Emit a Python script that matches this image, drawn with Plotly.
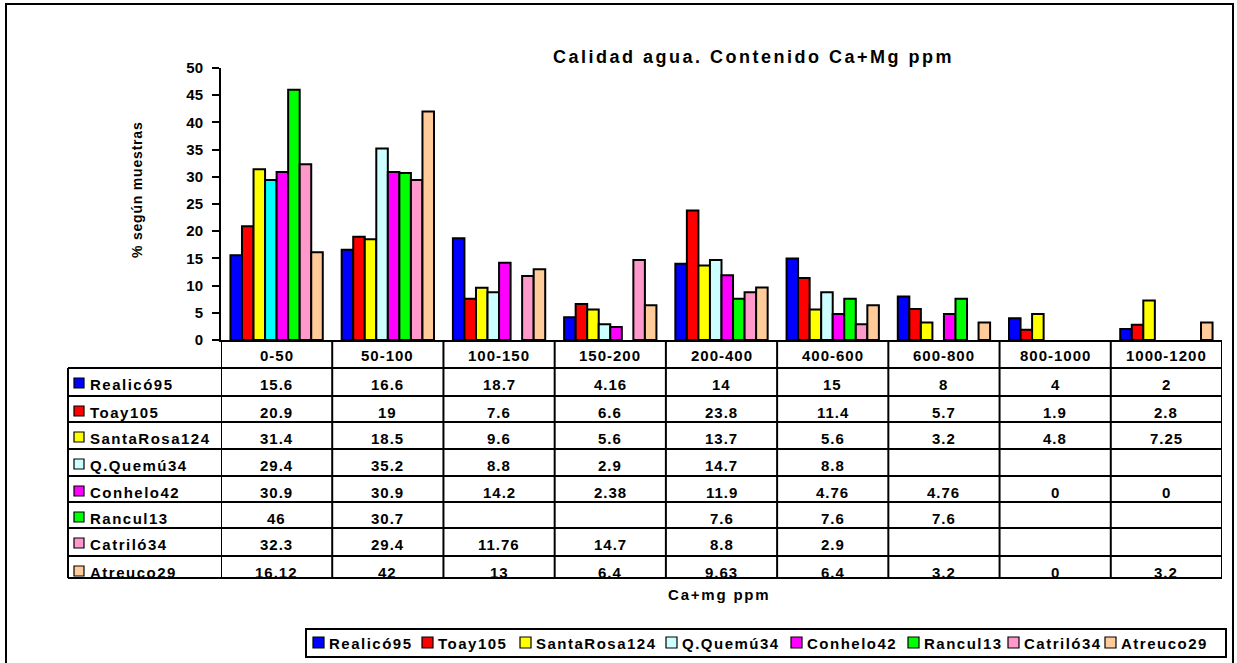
import plotly.graph_objects as go

# ---------------- data ----------------
categories = ["0-50", "50-100", "100-150", "150-200", "200-400",
              "400-600", "600-800", "800-1000", "1000-1200"]
series_names = ["Realicó95", "Toay105", "SantaRosa124", "Q.Quemú34",
                "Conhelo42", "Rancul13", "Catriló34", "Atreuco29"]
realico = [15.6, 16.6, 18.7, 4.16, 14, 15, 8, 4, 2]
toay = [20.9, 19, 7.6, 6.6, 23.8, 11.4, 5.7, 1.9, 2.8]
santarosa = [31.4, 18.5, 9.6, 5.6, 13.7, 5.6, 3.2, 4.8, 7.25]
qquemu = [29.4, 35.2, 8.8, 2.9, 14.7, 8.8, None, None, None]
conhelo = [30.9, 30.9, 14.2, 2.38, 11.9, 4.76, 4.76, 0, 0]
rancul = [46, 30.7, None, None, 7.6, 7.6, 7.6, None, None]
catrilo = [32.3, 29.4, 11.76, 14.7, 8.8, 2.9, None, None, None]
atreuco = [16.12, 42, 13, 6.4, 9.63, 6.4, 3.2, 0, 3.2]
series_values = [realico, toay, santarosa, qquemu, conhelo, rancul, catrilo, atreuco]

colors = ["#0000FF", "#FF0000", "#FFFF00", "#CCFFFF",
          "#FF00FF", "#00FF00", "#FF99CC", "#FFCC99"]
# the first Q.Quemú bar is drawn in plain cyan in the original
qquemu_bar_colors = ["#00FFFF"] + ["#CCFFFF"] * 8

title_text = "Calidad agua. Contenido Ca+Mg ppm"
y_title = "% según muestras"
x_title = "Ca+mg ppm"

# ---------------- layout geometry (pixels) ----------------
W, H = 1237, 663
PL, PR, PT, PB = 221, 1222, 68, 340          # plot area
FONT = "Liberation Sans, Arial, sans-serif"


def px2x(px):
    return (px - PL) / (PR - PL)


def px2y(py):
    return (PB - py) / (PB - PT)


def sp(text, ls):
    return f'<span style="letter-spacing:{ls}px">{text}</span>'


fig = go.Figure()
for name, vals, col in zip(series_names, series_values, colors):
    mc = qquemu_bar_colors if name == "Q.Quemú34" else col
    # zero-height bars show no outline in the original
    lw = [0 if v == 0 else 2 for v in vals]
    fig.add_trace(go.Bar(
        x=categories, y=vals, name=name,
        marker=dict(color=mc, line=dict(color="black", width=lw)),
        showlegend=False, hoverinfo="x+y+name"))

shapes = []
annotations = []
LW = 2

# outer frame
shapes.append(dict(type="rect", xref="paper", yref="paper",
                   x0=px2x(6), x1=px2x(1233), y0=px2y(4), y1=px2y(690),
                   line=dict(color="black", width=LW), layer="below"))

# data table
row_tops = [368, 396, 422, 449, 476, 502, 528, 556]
table_bottom = 578
tab_left = 68
for yt in row_tops + [table_bottom]:
    shapes.append(dict(type="line", xref="paper", yref="paper",
                       x0=px2x(tab_left), x1=px2x(PR), y0=px2y(yt), y1=px2y(yt),
                       line=dict(color="black", width=LW)))
shapes.append(dict(type="line", xref="paper", yref="paper",
                   x0=px2x(tab_left), x1=px2x(tab_left),
                   y0=px2y(row_tops[0]), y1=px2y(table_bottom),
                   line=dict(color="black", width=LW)))
for i in range(len(categories) + 1):
    shapes.append(dict(type="line", xref="x", yref="paper",
                       x0=i - 0.5, x1=i - 0.5, y0=0, y1=px2y(table_bottom),
                       line=dict(color="black", width=LW)))

# header row
for c in categories:
    annotations.append(dict(x=c, xref="x", y=px2y(355), yref="paper",
                            text=sp(c, 1), showarrow=False,
                            xanchor="center", yanchor="middle",
                            font=dict(size=15, family=FONT, color="black", weight="bold")))

# rows
for r, (name, vals, col) in enumerate(zip(series_names, series_values, colors)):
    yc = row_tops[r] + 16
    shapes.append(dict(type="rect", xref="paper", yref="paper",
                       x0=px2x(74), x1=px2x(84), y0=px2y(yc - 6), y1=px2y(yc + 4),
                       fillcolor=col, line=dict(color="black", width=1.2)))
    annotations.append(dict(x=px2x(88), xref="paper", y=px2y(yc), yref="paper",
                            text=sp(name, 1.5), showarrow=False,
                            xanchor="left", yanchor="middle",
                            font=dict(size=15, family=FONT, color="black", weight="bold")))
    for c, v in zip(categories, vals):
        if v is None:
            continue
        annotations.append(dict(x=c, xref="x", y=px2y(yc), yref="paper",
                                text=sp(f"{v:g}", 1), showarrow=False,
                                xanchor="center", yanchor="middle",
                                font=dict(size=15, family=FONT, color="black", weight="bold")))

# titles
annotations.append(dict(x=px2x(753), xref="paper", y=px2y(57), yref="paper",
                        text=sp(title_text, 2.5), showarrow=False,
                        xanchor="center", yanchor="middle",
                        font=dict(size=18, family=FONT, color="black", weight="bold")))
annotations.append(dict(x=px2x(137), xref="paper", y=px2y(190), yref="paper",
                        text=sp(y_title, 0.8), showarrow=False, textangle=-90,
                        xanchor="center", yanchor="middle",
                        font=dict(size=14, family=FONT, color="black", weight="bold")))
annotations.append(dict(x=px2x(719), xref="paper", y=px2y(594), yref="paper",
                        text=sp(x_title, 1.8), showarrow=False,
                        xanchor="center", yanchor="middle",
                        font=dict(size=15, family=FONT, color="black", weight="bold")))

# legend (drawn by hand, bottom box)
shapes.append(dict(type="rect", xref="paper", yref="paper",
                   x0=px2x(306), x1=px2x(1226), y0=px2y(629), y1=px2y(657),
                   line=dict(color="black", width=LW)))
legend_sq_x = [313, 422, 520, 666, 791, 908, 1008, 1105]
for name, col, lx in zip(series_names, colors, legend_sq_x):
    shapes.append(dict(type="rect", xref="paper", yref="paper",
                       x0=px2x(lx), x1=px2x(lx + 11), y0=px2y(637), y1=px2y(648),
                       fillcolor=col, line=dict(color="black", width=1.2)))
    annotations.append(dict(x=px2x(lx + 14), xref="paper", y=px2y(643), yref="paper",
                            text=sp(name, 1.5), showarrow=False,
                            xanchor="left", yanchor="middle",
                            font=dict(size=15, family=FONT, color="black", weight="bold")))

fig.update_layout(
    width=W, height=H,
    margin=dict(l=PL, r=W - PR, t=PT, b=H - PB, pad=0),
    paper_bgcolor="white", plot_bgcolor="white",
    font=dict(family=FONT, size=15, color="black", weight="bold"),
    barmode="group", bargap=0.17, bargroupgap=0,
    shapes=shapes, annotations=annotations,
    xaxis=dict(type="category", range=[-0.5, len(categories) - 0.5],
               showticklabels=False, ticks="", showgrid=False,
               showline=True, linecolor="black", linewidth=LW, zeroline=False,
               fixedrange=True),
    yaxis=dict(range=[0, 50], dtick=5, tick0=0, showgrid=False, zeroline=False,
               showline=True, linecolor="black", linewidth=LW,
               ticks="outside", ticklen=7, tickwidth=LW, tickcolor="black",
               ticklabelstandoff=6,
               tickfont=dict(size=15, family=FONT, color="black", weight="bold"),
               fixedrange=True),
)

fig.write_html(
    "out.html",
    config={"displayModeBar": False},
    post_script="document.body.style.margin='0';document.body.style.overflow='hidden';",
)
